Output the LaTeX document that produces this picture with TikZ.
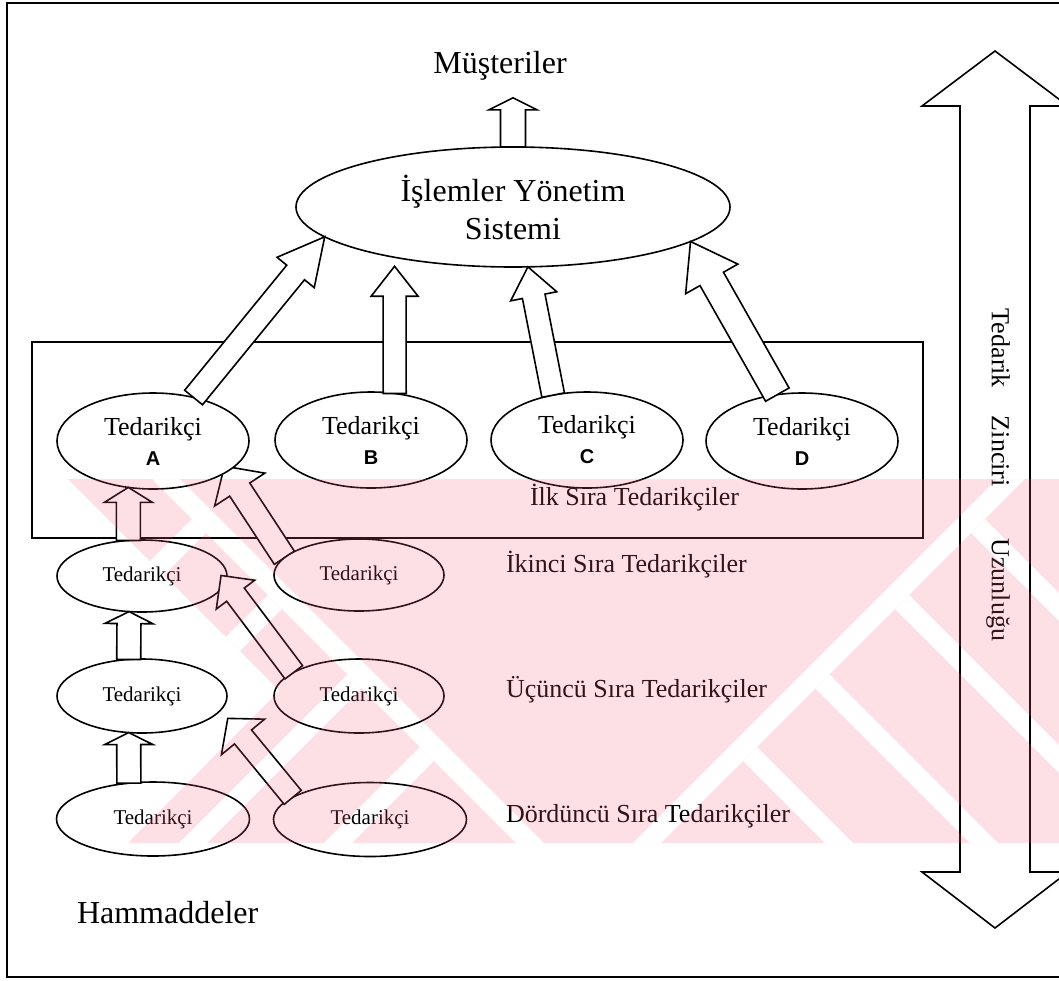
\documentclass[tikz,border=0pt]{standalone}
\usepackage{fontspec}
\setmainfont{Liberation Serif}
\newfontfamily\letterfont{Liberation Sans}
\usetikzlibrary{shapes.geometric,calc}

\definecolor{wmbase}{RGB}{240,100,130}

\pgfdeclarelayer{back}
\pgfdeclarelayer{mid}
\pgfdeclarelayer{front}
\pgfsetlayers{back,mid,main,front}

% block arrow: [style] {start} {end} {half shaft} {half head} {head length}
\newcommand\blockarrow[6][]{%
  \coordinate (ba-s) at #2;
  \coordinate (ba-e) at #3;
  \coordinate (ba-h) at ($(ba-e)!#6!(ba-s)$);
  \draw[blk,#1] ($(ba-s)!#4!90:(ba-e)$) -- ($(ba-h)!#4!90:(ba-e)$)
    -- ($(ba-h)!#5!90:(ba-e)$) -- (ba-e) -- ($(ba-h)!#5!-90:(ba-e)$)
    -- ($(ba-h)!#4!-90:(ba-e)$) -- ($(ba-s)!#4!-90:(ba-e)$) -- cycle;
}
\newcommand\lettr[1]{{\letterfont\bfseries\fontsize{10}{15}\selectfont #1}}

\begin{document}
\begin{tikzpicture}[x=0.5pt,y=-0.5pt,
  every node/.style={inner sep=0pt, outer sep=0pt},
  ell/.style={ellipse, draw, fill=white, line width=0.8pt},
  blk/.style={draw, fill=white, line width=0.8pt, line join=miter},
  bigtxt/.style={font=\fontsize{16}{19}\selectfont},
  midtxt/.style={font=\fontsize{13}{15}\selectfont},
  smltxt/.style={font=\fontsize{10.5}{12}\selectfont},
  row1/.style={ell, midtxt, align=center, minimum width=96pt, minimum height=48pt},
  rowA/.style={ell, smltxt, minimum width=85pt, minimum height=36pt},
  rowB/.style={ell, smltxt, minimum width=85pt, minimum height=37pt},
  rowC/.style={ell, smltxt, minimum width=96.5pt, minimum height=37pt},
  stamp/.style={fill=wmbase, fill opacity=0.2, even odd rule}
]
\useasboundingbox (0,0) rectangle (1059,980);

\begin{pgfonlayer}{back}
  % outer frame (open to the right) and the first-tier box
  \draw[line width=1.1pt] (1075,3) -- (7,3) -- (7,977) -- (1075,977);
  \draw[line width=0.8pt] (32,342) rectangle (923,538);
  % tier labels
  \node[midtxt, anchor=base west] (l1) at (530,505) {İlk Sıra Tedarikçiler};
  \node[midtxt, anchor=base west] (l2) at (506,572) {İkinci Sıra Tedarikçiler};
  \node[midtxt, anchor=base west] (l3) at (506,697) {Üçüncü Sıra Tedarikçiler};
  \node[midtxt, anchor=base west] (l4) at (506,822) {Dördüncü Sıra Tedarikçiler};
  \node[bigtxt, anchor=base west] (raw) at (77,923) {Hammaddeler};
  \node[bigtxt, anchor=base] (must) at (500,73) {Müşteriler};
  % supply chain length double arrow
  \draw[blk] (960,106) -- (922,106) -- (995,51) -- (1068,106) -- (1030,106)
    -- (1030,872) -- (1068,872) -- (995,928) -- (922,872) -- (960,872) -- cycle;
  \node[midtxt, rotate=-90] (len) at (998,475)
    {Tedarik\hspace{14pt}Zinciri\hspace{26pt}Uzunluğu};
\end{pgfonlayer}

% operations system and suppliers
\node[ell, bigtxt, align=center, minimum width=217pt, minimum height=60pt] (ims)
  at (513,207) {İşlemler Yönetim\\Sistemi};
\node[row1] (A) at (153,441) {Tedarikçi\\\lettr{A}};
\node[row1] (B) at (371,440) {Tedarikçi\\\lettr{B}};
\node[row1] (C) at (587,440) {Tedarikçi\\\lettr{C}};
\node[row1] (D) at (802,441) {Tedarikçi\\\lettr{D}};
\node[rowA] (E2L) at (142,576) {Tedarikçi\hspace{5pt}};
\node[rowA] (E2R) at (359,575) {Tedarikçi\hspace{5pt}};
\node[rowB] (E3L) at (142,696) {Tedarikçi\hspace{5pt}};
\node[rowB] (E3R) at (359,696) {Tedarikçi\hspace{5pt}};
\node[rowC] (E4L) at (153,819) {Tedarikçi\hspace{12pt}};
\node[rowC] (E4R) at (370,819.5) {Tedarikçi\hspace{12pt}};

% flows towards the operations system and the customers
\blockarrow{(ims.north)}{($(ims.north |- must.south)+(0,-9pt)$)}{6.25pt}{12pt}{6pt}
\blockarrow{(A.47)}{(ims.189)}{5.75pt}{12pt}{23pt}
\blockarrow{(B.63)}{($(ims.203)!4.5pt!(B.63)$)}{5.75pt}{11.75pt}{15pt}
\blockarrow{(C.127)}{(ims.284)}{5.75pt}{11.75pt}{15pt}
\blockarrow{(D.118)}{(ims.349)}{6.75pt}{15pt}{21.5pt}

% flows between the supplier tiers
\begin{pgfonlayer}{mid}
  \blockarrow{(E2R.167)}{($(A.338)!-3pt!(E2R.167)$)}{6pt}{15pt}{14pt}
\end{pgfonlayer}
\blockarrow{(E2L.111)}{(A.242)}{6pt}{12pt}{7.5pt}
\blockarrow{(E3L.110)}{(E2L.250)}{6pt}{12pt}{6pt}
\blockarrow{(E4L.124)}{(E3L.250)}{6pt}{12pt}{6pt}
\blockarrow{(E3R.160)}{($(E2L.356)!-4pt!(E3R.160)$)}{5.5pt}{12pt}{12pt}
\blockarrow{(E4R.164)}{($(E3L.350)!5.5pt!(E4R.164)$)}{5.5pt}{14pt}{12pt}

% pale stamp across the lower half of the page: a band cut by two
% herringbone patterns of thin gaps
\begin{pgfonlayer}{front}
  \fill[stamp]
    (68,479) -- (1059,479) -- (1059,843) -- (128,843) -- (279.5,690.5) -- cycle
    % left spine and its barbs
    (151.9,479) -- (515.9,843) -- (544.1,843) -- (180.1,479) -- cycle
    (191.9,519) -- (149.95,560.95) -- (164.05,575.05) -- (206,533.1) -- cycle
    (267.9,595) -- (225.95,636.95) -- (240.05,651.05) -- (282,609.1) -- cycle
    (347.4,674.5) -- (178.9,843) -- (207.1,843) -- (361.5,688.6) -- cycle
    (419.9,747) -- (323.9,843) -- (352.1,843) -- (434,761.1) -- cycle
    % right spine and its barbs
    (996.9,479) -- (632.9,843) -- (661.1,843) -- (1025.1,479) -- cycle
    (971,533.1) -- (1059,621.1) -- (1059,592.9) -- (985.1,519) -- cycle
    (895,609.1) -- (1059,773.1) -- (1059,744.9) -- (909.1,595) -- cycle
    (815.5,688.6) -- (969.9,843) -- (998.1,843) -- (829.6,674.5) -- cycle
    (743,761.1) -- (824.9,843) -- (853.1,843) -- (757.1,747) -- cycle;
\end{pgfonlayer}
\end{tikzpicture}
\end{document}
